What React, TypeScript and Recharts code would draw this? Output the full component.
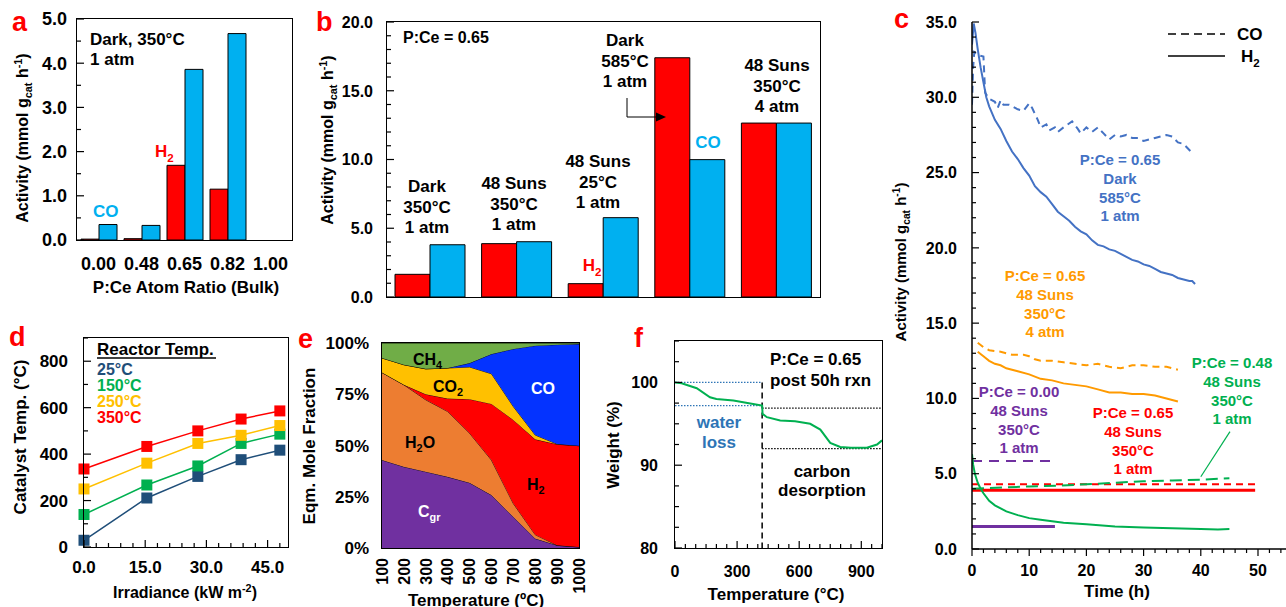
import React from "react";
import {
  BarChart,
  Bar,
  LineChart,
  Line,
  AreaChart,
  Area,
  XAxis,
  YAxis,
  ReferenceLine,
} from "recharts";

const FONT = '"Liberation Sans", Arial, sans-serif';
const RED = "#FF0000";
const CYAN = "#00B0F0";
const BLUE = "#4472C4";
const ORANGE = "#FF9A00";
const PURPLE = "#7030A0";
const GREEN = "#00B050";
const NAVY = "#1F4E79";
const GOLD = "#FFC000";

// ---- panel a: dark activity vs P:Ce ratio
const ratioCats = ["0.00", "0.48", "0.65", "0.82", "1.00"];
const darkH2 = [0.02, 0.03, 1.69, 1.15, 0];
const darkCO = [0.35, 0.33, 3.86, 4.67, 0];

// ---- panel b: conditions at P:Ce = 0.65
const condCats = ["dark350", "suns350", "suns25", "dark585", "suns350p4"];
const condH2 = [1.65, 3.88, 0.97, 17.4, 12.65];
const condCO = [3.8, 4.02, 5.77, 9.99, 12.65];

// ---- panel c: time on stream
const darkH2T = [0, 0.3, 0.6, 1, 1.5, 2, 2.5, 3, 4, 5, 6, 7, 8, 9, 10, 11, 12, 13, 14, 15, 16, 17, 18, 19, 20, 21, 22, 23, 24, 25, 26, 27, 28, 29, 30, 31, 32, 33, 34, 35, 36, 37, 38, 38.5, 39];
const darkH2V = [33.5, 34.9, 34.3, 33.2, 32.0, 31.0, 30.0, 29.4, 28.5, 27.9, 27.1, 26.4, 25.9, 25.3, 24.8, 24.1, 23.7, 23.4, 22.9, 22.4, 22.1, 21.8, 21.4, 21.1, 20.9, 20.5, 20.2, 20.1, 19.9, 19.8, 19.6, 19.4, 19.2, 19.1, 18.9, 18.8, 18.6, 18.4, 18.3, 18.2, 18.0, 17.9, 17.8, 17.8, 17.6];
const darkCOT = [0, 0.2, 0.4, 1, 2, 2.3, 3, 4, 4.5, 5, 5.5, 6.5, 8, 9, 10, 10.5, 11.5, 12, 13, 13.5, 14.5, 15, 16, 17.5, 18.5, 19, 20, 21, 22, 23, 24, 25, 26, 27, 28, 29, 30, 32, 34, 35, 36, 37, 38, 38.5];
const darkCOV = [29.5, 32.0, 33.0, 32.8, 32.7, 30.3, 29.9, 29.7, 29.3, 29.8, 29.5, 29.5, 29.2, 29.1, 29.6, 29.3, 28.5, 28.0, 28.2, 27.8, 28.0, 27.7, 28.0, 28.4, 27.9, 27.6, 28.0, 27.7, 28.0, 27.6, 27.2, 27.5, 27.4, 27.5, 27.3, 27.3, 27.1, 27.3, 27.5, 27.4, 27.0, 26.9, 26.5, 26.3];
const sun4COT = [1, 2, 3, 5, 7, 9, 10, 11, 12, 14, 16, 18, 20, 22, 24, 26, 28, 30, 32, 34, 36];
const sun4COV = [13.7, 13.4, 13.2, 13.1, 12.9, 12.9, 12.8, 12.6, 12.5, 12.5, 12.4, 12.3, 12.2, 12.3, 12.1, 12.0, 12.2, 12.2, 12.1, 12.1, 11.9];
const sun4H2T = [1, 2, 3, 4, 5, 6, 8, 10, 12, 14, 16, 18, 20, 22, 24, 26, 28, 30, 32, 34, 36];
const sun4H2V = [13.1, 12.8, 12.5, 12.3, 12.2, 12.0, 11.8, 11.6, 11.3, 11.2, 11.0, 10.9, 10.8, 10.6, 10.4, 10.4, 10.3, 10.3, 10.2, 10.0, 9.8];
const ceoT = [0, 5, 10, 14.5];
const ceoCOV = [5.85, 5.85, 5.85, 5.85];
const ceoH2V = [1.5, 1.5, 1.5, 1.5];
const sunT = [0, 10, 20, 30, 40, 49.5];
const sunCOV = [4.3, 4.3, 4.3, 4.3, 4.3, 4.3];
const sunH2V = [3.9, 3.9, 3.9, 3.9, 3.9, 3.9];
const p48H2T = [0, 0.2, 0.5, 1, 1.5, 2, 3, 4, 5, 6, 8, 10, 12, 14, 16, 18, 20, 25, 30, 35, 40, 43, 45];
const p48H2V = [6.3, 5.6, 5.0, 4.4, 4.0, 3.7, 3.2, 2.9, 2.7, 2.5, 2.25, 2.05, 1.95, 1.85, 1.75, 1.7, 1.65, 1.5, 1.42, 1.38, 1.33, 1.3, 1.32];
const p48COT = [0, 3, 6, 10, 15, 20, 25, 30, 35, 40, 45];
const p48COV = [4.0, 4.05, 4.1, 4.15, 4.2, 4.3, 4.4, 4.5, 4.55, 4.6, 4.7];

// ---- panel d: catalyst temperature vs irradiance
const irradiance = [0, 15.4, 27.9, 38.5, 48.0];
const cat25 = [29, 211, 304, 376, 417];
const cat150 = [140, 267, 349, 446, 486];
const cat250 = [250, 361, 446, 481, 523];
const cat350 = [336, 433, 500, 551, 586];

// ---- panel e: equilibrium mole fractions (%)
const eqTemps = [100, 200, 300, 400, 500, 600, 700, 800, 900, 1000];
const fracCgr = [42.9, 39.6, 37.2, 34.7, 31.8, 25.8, 15.2, 4.6, 1.3, 0.5];
const fracH2O = [42.7, 40.0, 35.1, 31.9, 24.2, 17.1, 6.5, 1.9, 0, 0];
const fracH2 = [0, 0, 2.7, 6.3, 16.6, 27.4, 40.8, 46.5, 49.3, 49.4];
const fracCO2 = [7.1, 9.8, 12.4, 14.9, 15.7, 14.7, 6.5, 2.1, 0.1, 0];
const fracCO = [0, 0, 0, 0, 1.9, 9.6, 28.1, 43.6, 48.5, 49.6];
const fracCH4 = [7.3, 10.6, 12.6, 12.2, 9.8, 5.4, 2.9, 1.3, 0.8, 0.5];

// ---- panel f: TGA
const tgaTemp = [0, 32, 105, 169, 200, 282, 350, 421, 423, 444, 508, 580, 653, 702, 750, 798, 850, 927, 976, 1000];
const tgaWeight = [100, 99.9, 99.3, 98.2, 98.0, 97.8, 97.5, 97.2, 96.2, 95.8, 95.4, 95.3, 95.0, 94.3, 92.7, 92.2, 92.1, 92.1, 92.5, 93.0];
const waterEndT = 421;

const range = (a: number, b: number, s: number) => {
  const out: number[] = [];
  for (let i = 0; a + i * s <= b + 1e-9; i++) out.push(+(a + i * s).toFixed(3));
  return out;
};
const pts = (t: number[], v: number[]) => t.map((x, i) => ({ t: x, v: v[i] }));
const isMult = (v: number, m: number) => Math.abs(v / m - Math.round(v / m)) < 1e-6;

type Rect = { x: number; y: number; w: number; h: number };
const AW = 60;
const MT = 14;
const MR = 8;
const AH = 60;
const size = (r: Rect) => ({
  width: r.w + AW + MR,
  height: r.h + MT + AH,
  margin: { top: MT, right: MR, left: 0, bottom: 0 },
});
const at = (r: Rect): React.CSSProperties => ({ position: "absolute", left: r.x - AW, top: r.y - MT });

function Frame({ r }: { r: Rect }) {
  return (
    <div
      style={{
        position: "absolute",
        left: r.x - 0.75,
        top: r.y - 0.75,
        width: r.w + 1.5,
        height: r.h + 1.5,
        border: "1.5px solid #000",
        boxSizing: "border-box",
        pointerEvents: "none",
      }}
    />
  );
}

const txt = (fs: number) => ({ fontSize: fs, fontWeight: "bold" as const, fontFamily: FONT, fill: "#000" });

function yTick(m: number, fs: number, major: (v: number) => boolean, fmt: (v: number) => string, inside = true) {
  return (p: any) => {
    const v = Number(p.payload.value);
    const big = major(v);
    const ax = p.x + m;
    return (
      <g>
        {inside && <line x1={ax} x2={ax + (big ? 7 : 4)} y1={p.y} y2={p.y} stroke="#000" strokeWidth={1.2} />}
        {big && (
          <text x={p.x} y={p.y} dy="0.36em" textAnchor="end" {...txt(fs)}>
            {fmt(v)}
          </text>
        )}
      </g>
    );
  };
}

// dir = -1 draws the tick up into the plot, +1 draws it down below the axis
function xTick(m: number, fs: number, major: (v: number) => boolean, fmt: (v: number) => string, dir = -1) {
  return (p: any) => {
    const v = Number(p.payload.value);
    const big = major(v);
    const ay = p.y - m;
    return (
      <g>
        <line x1={p.x} x2={p.x} y1={ay} y2={ay + dir * (big ? 7 : 4)} stroke="#000" strokeWidth={1.2} />
        {big && (
          <text x={p.x} y={p.y} dy="0.72em" textAnchor="middle" {...txt(fs)}>
            {fmt(v)}
          </text>
        )}
      </g>
    );
  };
}

const rA: Rect = { x: 77, y: 19, w: 215, h: 221 };
const rB: Rect = { x: 387, y: 22, w: 433, h: 275 };
const rC: Rect = { x: 972, y: 22, w: 314.6, h: 527 };
const rD: Rect = { x: 84, y: 338, w: 204, h: 209 };
const rE: Rect = { x: 382, y: 343, w: 197, h: 205 };
const rF: Rect = { x: 675, y: 341, w: 207, h: 207 };

function PanelA() {
  const data = ratioCats.map((c, i) => ({ c, h2: darkH2[i], co: darkCO[i] }));
  return (
    <div style={at(rA)}>
      <BarChart {...size(rA)} data={data} barCategoryGap={4} barGap={0}>
        <XAxis dataKey="c" axisLine={false} tickLine={false} tickSize={0} tickMargin={17} height={AH} tick={txt(18)} interval={0} />
        <YAxis
          width={AW}
          domain={[0, 5]}
          ticks={range(0, 5, 0.5)}
          interval={0}
          axisLine={false}
          tickLine={false}
          tickSize={0}
          tickMargin={10}
          tick={yTick(10, 18, (v) => isMult(v, 1), (v) => v.toFixed(1))}
        />
        <Bar dataKey="h2" fill={RED} stroke="#000" strokeWidth={1} isAnimationActive={false} />
        <Bar dataKey="co" fill={CYAN} stroke="#000" strokeWidth={1} isAnimationActive={false} />
      </BarChart>
    </div>
  );
}

function PanelB() {
  const data = condCats.map((c, i) => ({ c, h2: condH2[i], co: condCO[i] }));
  return (
    <div style={at(rB)}>
      <BarChart {...size(rB)} data={data} barCategoryGap={8} barGap={0}>
        <XAxis dataKey="c" axisLine={false} tickLine={false} tick={false} height={AH} />
        <YAxis
          width={AW}
          domain={[0, 20]}
          ticks={range(0, 20, 1)}
          interval={0}
          axisLine={false}
          tickLine={false}
          tickSize={0}
          tickMargin={14}
          tick={yTick(14, 16, (v) => isMult(v, 5), (v) => v.toFixed(1))}
        />
        <Bar dataKey="h2" fill={RED} stroke="#000" strokeWidth={1} isAnimationActive={false} />
        <Bar dataKey="co" fill={CYAN} stroke="#000" strokeWidth={1} isAnimationActive={false} />
      </BarChart>
    </div>
  );
}

function PanelC() {
  const dash = "7 5";
  return (
    <div style={at(rC)}>
      <LineChart {...size(rC)}>
        <XAxis
          type="number"
          dataKey="t"
          domain={[0, 55]}
          ticks={range(0, 54, 2)}
          interval={0}
          height={AH}
          axisLine={{ stroke: "#000", strokeWidth: 1.5 }}
          tickLine={false}
          tickSize={0}
          tickMargin={15}
          tick={xTick(15, 16, (v) => isMult(v, 10), (v) => String(v), 1)}
          allowDataOverflow
        />
        <YAxis
          width={AW}
          domain={[0, 35]}
          ticks={range(0, 35, 1)}
          interval={0}
          axisLine={{ stroke: "#000", strokeWidth: 1.5 }}
          tickLine={false}
          tickSize={0}
          tickMargin={15}
          tick={yTick(15, 16, (v) => isMult(v, 5), (v) => v.toFixed(1))}
        />
        <Line data={pts(darkCOT, darkCOV)} dataKey="v" stroke={BLUE} strokeWidth={2} strokeDasharray={dash} dot={false} isAnimationActive={false} />
        <Line data={pts(darkH2T, darkH2V)} dataKey="v" stroke={BLUE} strokeWidth={2} dot={false} isAnimationActive={false} />
        <Line data={pts(sun4COT, sun4COV)} dataKey="v" stroke={ORANGE} strokeWidth={2} strokeDasharray={dash} dot={false} isAnimationActive={false} />
        <Line data={pts(sun4H2T, sun4H2V)} dataKey="v" stroke={ORANGE} strokeWidth={2} dot={false} isAnimationActive={false} />
        <Line data={pts(ceoT, ceoCOV)} dataKey="v" stroke={PURPLE} strokeWidth={2} strokeDasharray="10 7" dot={false} isAnimationActive={false} />
        <Line data={pts(ceoT, ceoH2V)} dataKey="v" stroke={PURPLE} strokeWidth={3} dot={false} isAnimationActive={false} />
        <Line data={pts(sunT, sunCOV)} dataKey="v" stroke={RED} strokeWidth={2} strokeDasharray={dash} dot={false} isAnimationActive={false} />
        <Line data={pts(sunT, sunH2V)} dataKey="v" stroke={RED} strokeWidth={3} dot={false} isAnimationActive={false} />
        <Line data={pts(p48COT, p48COV)} dataKey="v" stroke={GREEN} strokeWidth={2} strokeDasharray="12 6" dot={false} isAnimationActive={false} />
        <Line data={pts(p48H2T, p48H2V)} dataKey="v" stroke={GREEN} strokeWidth={2} dot={false} isAnimationActive={false} />
        <ReferenceLine segment={[{ x: 45.1, y: 7.8 }, { x: 40, y: 4.8 }]} stroke={GREEN} strokeWidth={1.2} />
      </LineChart>
    </div>
  );
}

function PanelD() {
  const data = irradiance.map((x, i) => ({ x, a: cat25[i], b: cat150[i], c: cat250[i], d: cat350[i] }));
  const sq = (col: string) => (p: any) => <rect key={`${col}${p.index}`} x={p.cx - 5.5} y={p.cy - 5.5} width={11} height={11} fill={col} />;
  const series: [string, string][] = [["a", NAVY], ["b", GREEN], ["c", GOLD], ["d", RED]];
  return (
    <div style={at(rD)}>
      <LineChart {...size(rD)} data={data}>
        <XAxis
          type="number"
          dataKey="x"
          domain={[0, 50]}
          ticks={range(0, 48, 3)}
          interval={0}
          height={AH}
          axisLine={false}
          tickLine={false}
          tickSize={0}
          tickMargin={14}
          tick={xTick(14, 17, (v) => isMult(v, 15), (v) => v.toFixed(1))}
        />
        <YAxis
          width={AW}
          domain={[0, 900]}
          ticks={range(0, 900, 100)}
          interval={0}
          axisLine={false}
          tickLine={false}
          tickSize={0}
          tickMargin={16}
          tick={yTick(16, 17, (v) => isMult(v, 200) && v < 900, (v) => String(v))}
        />
        {series.map(([k, col]) => (
          <Line key={k} dataKey={k} stroke={col} strokeWidth={1.5} dot={sq(col)} isAnimationActive={false} />
        ))}
      </LineChart>
    </div>
  );
}

function PanelE() {
  const data = eqTemps.map((T, i) => ({
    T,
    cgr: fracCgr[i],
    h2o: fracH2O[i],
    h2: fracH2[i],
    co2: fracCO2[i],
    co: fracCO[i],
    ch4: fracCH4[i],
  }));
  const layers: [string, string][] = [
    ["cgr", PURPLE],
    ["h2o", "#ED7D31"],
    ["h2", RED],
    ["co2", GOLD],
    ["co", "#0433FF"],
    ["ch4", "#70AD47"],
  ];
  const rot = (p: any) => (
    <text x={p.x} y={p.y} dy="0.36em" textAnchor="end" transform={`rotate(-90 ${p.x} ${p.y})`} {...txt(16)}>
      {p.payload.value}
    </text>
  );
  return (
    <div style={at(rE)}>
      <AreaChart {...size(rE)} data={data}>
        <XAxis type="number" dataKey="T" domain={[100, 1000]} ticks={eqTemps} interval={0} height={AH} axisLine={false} tickLine={false} tickSize={0} tickMargin={10} tick={rot} />
        <YAxis
          width={AW}
          domain={[0, 100]}
          ticks={[0, 25, 50, 75, 100]}
          interval={0}
          axisLine={false}
          tickLine={false}
          tickSize={0}
          tickMargin={13}
          tick={yTick(13, 17, () => true, (v) => `${v}%`, false)}
        />
        {layers.map(([k, col]) => (
          <Area key={k} type="linear" dataKey={k} stackId="eq" fill={col} fillOpacity={1} stroke="#000" strokeWidth={0.8} isAnimationActive={false} />
        ))}
      </AreaChart>
    </div>
  );
}

function PanelF() {
  return (
    <div style={at(rF)}>
      <LineChart {...size(rF)} data={pts(tgaTemp, tgaWeight)}>
        <XAxis
          type="number"
          dataKey="t"
          domain={[0, 1000]}
          ticks={range(0, 1000, 50)}
          interval={0}
          height={AH}
          axisLine={false}
          tickLine={false}
          tickSize={0}
          tickMargin={17}
          tick={xTick(17, 16, (v) => isMult(v, 300), (v) => String(v))}
        />
        <YAxis
          width={AW}
          domain={[80, 105]}
          ticks={range(80, 105, 2.5)}
          interval={0}
          axisLine={false}
          tickLine={false}
          tickSize={0}
          tickMargin={17}
          tick={yTick(17, 16, (v) => isMult(v, 10), (v) => String(v))}
        />
        <ReferenceLine segment={[{ x: 0, y: 100 }, { x: waterEndT, y: 100 }]} stroke="#2E75B6" strokeDasharray="1.5 1.5" strokeWidth={1.2} />
        <ReferenceLine segment={[{ x: 0, y: 97.2 }, { x: waterEndT, y: 97.2 }]} stroke="#2E75B6" strokeDasharray="1.5 1.5" strokeWidth={1.2} />
        <ReferenceLine segment={[{ x: waterEndT, y: 96.9 }, { x: 1000, y: 96.9 }]} stroke="#000" strokeDasharray="1.5 1.5" strokeWidth={1.2} />
        <ReferenceLine segment={[{ x: waterEndT, y: 92.0 }, { x: 1000, y: 92.0 }]} stroke="#000" strokeDasharray="1.5 1.5" strokeWidth={1.2} />
        <ReferenceLine segment={[{ x: waterEndT, y: 100 }, { x: waterEndT, y: 80 }]} stroke="#000" strokeDasharray="6 4" strokeWidth={1.5} />
        <Line dataKey="v" stroke={GREEN} strokeWidth={2} dot={false} isAnimationActive={false} />
      </LineChart>
    </div>
  );
}

function T({ x, y, c = "#000", fs = 16, a = "start", rot = false, children }: any) {
  return (
    <text
      x={x}
      y={y}
      fill={c}
      fontSize={fs}
      textAnchor={a}
      fontWeight="bold"
      fontFamily={FONT}
      transform={rot ? `rotate(-90 ${x} ${y})` : undefined}
    >
      {children}
    </text>
  );
}

function Lines({ x, y, dy, c, fs, lines }: { x: number; y: number; dy: number; c: string; fs: number; lines: string[] }) {
  return (
    <>
      {lines.map((l, i) => (
        <T key={i} x={x} y={y + i * dy} c={c} fs={fs} a="middle">
          {l}
        </T>
      ))}
    </>
  );
}

const sub = (fs: number, s: string, after = "") => (
  <>
    <tspan fontSize={fs * 0.68} dy={fs * 0.28}>
      {s}
    </tspan>
    <tspan dy={-fs * 0.28}>{after}</tspan>
  </>
);

const actTitle = (fs: number) => (
  <>
    Activity (mmol g
    <tspan fontSize={fs * 0.68} dy={fs * 0.28}>
      cat
    </tspan>
    <tspan dy={-fs * 0.28}> h</tspan>
    <tspan fontSize={fs * 0.68} dy={-fs * 0.38}>
      -1
    </tspan>
    <tspan dy={fs * 0.38}>)</tspan>
  </>
);

function Overlay() {
  return (
    <svg width={1286} height={607} style={{ position: "absolute", left: 0, top: 0, pointerEvents: "none" }}>
      {/* panel letters */}
      <T x={12} y={31} c={RED} fs={27}>a</T>
      <T x={316} y={31} c={RED} fs={27}>b</T>
      <T x={894} y={28} c={RED} fs={27}>c</T>
      <T x={9} y={346} c={RED} fs={27}>d</T>
      <T x={298} y={348} c={RED} fs={27}>e</T>
      <T x={634} y={347} c={RED} fs={27}>f</T>

      {/* a */}
      <T x={90} y={45} fs={17}>Dark, 350°C</T>
      <T x={90} y={65} fs={17}>1 atm</T>
      <T x={93} y={217} c={CYAN} fs={17}>CO</T>
      <T x={155} y={157} c={RED} fs={17}>H{sub(17, "2")}</T>
      <T x={186} y={293} fs={17} a="middle">P:Ce Atom Ratio (Bulk)</T>
      <T x={28} y={138} fs={16} a="middle" rot>{actTitle(16)}</T>

      {/* b */}
      <T x={403} y={43} fs={16}>P:Ce = 0.65</T>
      <Lines x={427} y={192} dy={20.5} c="#000" fs={17} lines={["Dark", "350°C", "1 atm"]} />
      <Lines x={514} y={189} dy={20.5} c="#000" fs={17} lines={["48 Suns", "350°C", "1 atm"]} />
      <Lines x={598} y={167} dy={20.5} c="#000" fs={17} lines={["48 Suns", "25°C", "1 atm"]} />
      <Lines x={625} y={46} dy={20.5} c="#000" fs={17} lines={["Dark", "585°C", "1 atm"]} />
      <Lines x={777} y={71} dy={20.5} c="#000" fs={17} lines={["48 Suns", "350°C", "4 atm"]} />
      <T x={708} y={148} c={CYAN} fs={17} a="middle">CO</T>
      <T x={592} y={271} c={RED} fs={17} a="middle">H{sub(17, "2")}</T>
      <path d="M627 98 V117 H657" stroke="#000" strokeWidth={1} fill="none" />
      <polygon points="656,112.5 666,117 656,121.5" fill="#000" />
      <T x={333} y={140} fs={16} a="middle" rot>{actTitle(16)}</T>

      {/* c */}
      <line x1={1168} x2={1225} y1={34} y2={34} stroke="#000" strokeWidth={1.5} strokeDasharray="8 5" />
      <line x1={1168} x2={1225} y1={56} y2={56} stroke="#000" strokeWidth={1.5} />
      <T x={1237} y={40} fs={17}>CO</T>
      <T x={1241} y={62} fs={17}>H{sub(17, "2")}</T>
      <Lines x={1120} y={165} dy={18.8} c={BLUE} fs={15} lines={["P:Ce = 0.65", "Dark", "585°C", "1 atm"]} />
      <Lines x={1045} y={281} dy={18.8} c={ORANGE} fs={15} lines={["P:Ce = 0.65", "48 Suns", "350°C", "4 atm"]} />
      <Lines x={1019} y={397} dy={18.8} c={PURPLE} fs={15} lines={["P:Ce = 0.00", "48 Suns", "350°C", "1 atm"]} />
      <Lines x={1133} y={418} dy={18.8} c={RED} fs={15} lines={["P:Ce = 0.65", "48 Suns", "350°C", "1 atm"]} />
      <Lines x={1232} y={368} dy={18.8} c={GREEN} fs={15} lines={["P:Ce = 0.48", "48 Suns", "350°C", "1 atm"]} />
      <T x={906} y={262} fs={15} a="middle" rot>{actTitle(15)}</T>
      <T x={1117} y={597} fs={17} a="middle">Time (h)</T>

      {/* d */}
      <T x={97} y={355} fs={17}>Reactor Temp.</T>
      <line x1={97} x2={216} y1={358} y2={358} stroke="#000" strokeWidth={1.5} />
      <T x={97} y={375} c={NAVY} fs={16}>25°C</T>
      <T x={97} y={391} c={GREEN} fs={16}>150°C</T>
      <T x={97} y={407} c={GOLD} fs={16}>250°C</T>
      <T x={97} y={423} c={RED} fs={16}>350°C</T>
      <T x={26} y={437} fs={17} a="middle" rot>Catalyst Temp. (°C)</T>
      <T x={185} y={598} fs={16} a="middle">
        Irradiance (kW m
        <tspan fontSize={16 * 0.68} dy={-16 * 0.38}>-2</tspan>
        <tspan dy={16 * 0.38}>)</tspan>
      </T>

      {/* e */}
      <T x={413} y={365} fs={16}>CH{sub(16, "4")}</T>
      <T x={433} y={392} fs={16}>CO{sub(16, "2")}</T>
      <T x={531} y={394} c="#fff" fs={16}>CO</T>
      <T x={405} y={448} fs={16}>H{sub(16, "2", "O")}</T>
      <T x={527} y={490} fs={16}>H{sub(16, "2")}</T>
      <T x={418} y={517} c="#fff" fs={16}>C{sub(16, "gr")}</T>
      <T x={315} y={446} fs={17} a="middle" rot>Eqm. Mole Fraction</T>
      <T x={476} y={606} fs={17} a="middle">Temperature (ºC)</T>

      {/* f */}
      <T x={770} y={365} fs={17}>P:Ce = 0.65</T>
      <T x={770} y={386} fs={17}>post 50h rxn</T>
      <Lines x={719} y={428} dy={20} c="#2E75B6" fs={17} lines={["water", "loss"]} />
      <Lines x={822} y={477} dy={18.5} c="#000" fs={17} lines={["carbon", "desorption"]} />
      <T x={619} y={445} fs={17} a="middle" rot>Weight (%)</T>
      <T x={776} y={600} fs={17} a="middle">Temperature (°C)</T>
    </svg>
  );
}

export default function App() {
  return (
    <div
      style={{
        position: "absolute",
        left: 0,
        top: 0,
        width: 1286,
        height: 607,
        overflow: "hidden",
        background: "#fff",
        fontFamily: FONT,
      }}
    >
      <PanelA />
      <Frame r={rA} />
      <PanelB />
      <Frame r={rB} />
      <PanelC />
      <PanelD />
      <Frame r={rD} />
      <PanelE />
      <Frame r={rE} />
      <PanelF />
      <Frame r={rF} />
      <Overlay />
    </div>
  );
}
